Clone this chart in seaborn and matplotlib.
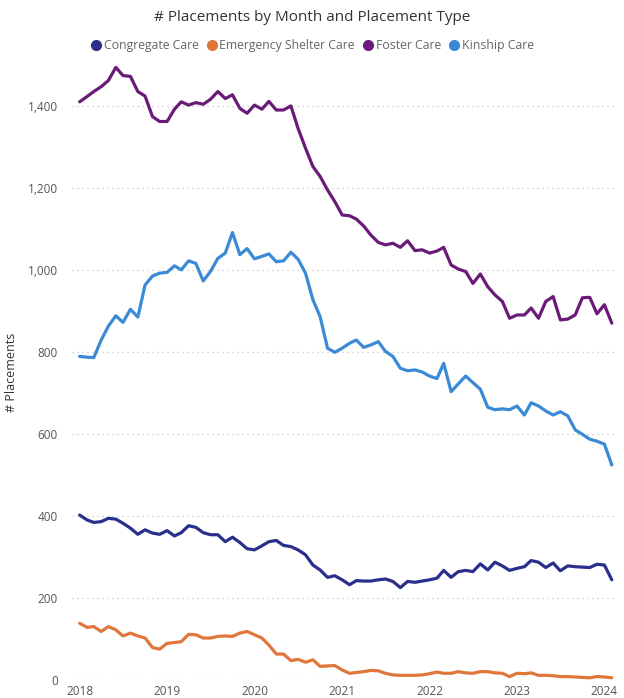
import pandas as pd
import numpy as np
import matplotlib.pyplot as plt
import matplotlib.dates as mdates
from matplotlib.ticker import FuncFormatter
from matplotlib.lines import Line2D
import seaborn as sns

# data, monthly Jan 2018 - Feb 2024
months = pd.date_range('2018-01-01', periods=74, freq='MS')

congregate = [402,390,384,386,394,392,382,370,355,366, 358,355,364,351,359,376,372,359,354,354,
              337,348,335,320,317,327,337,340,328,325, 317,305,280,268,250,254,244,232,242,241,
              241,244,246,240,225,240,238,241,244,248, 267,250,264,267,264,283,268,287,278,267,
              272,276,291,287,274,285,266,278,276,275, 274,282,280,244]
emergency = [138,128,130,118,130,122,107,114,107,102, 79,75,89,91,93,111,110,102,102,106,
             107,106,114,118,110,102,85,63,63,47, 50,43,49,33,34,35,24,16,18,20,
             23,22,16,12,11,11,11,12,15,19, 16,16,20,17,16,20,20,17,16,8,
             16,15,17,11,11,10,8,8,7,6, 5,8,7,5]
foster = [1410,1423,1435,1447,1462,1494,1474,1472,1435,1424, 1374,1362,1362,1392,1410,1402,1408,1404,1416,1435,
          1418,1427,1394,1382,1402,1392,1411,1390,1390,1400, 1345,1297,1252,1228,1195,1167,1134,1132,1124,1107,
          1085,1067,1061,1065,1055,1071,1047,1049,1041,1046, 1055,1012,1002,996,967,990,959,939,923,882,
          890,890,907,882,923,935,878,880,890,932, 933,893,915,870]
kinship = [789,787,786,829,863,888,872,904,885,963, 985,992,994,1010,1000,1022,1016,973,996,1028,
           1041,1091,1037,1052,1027,1033,1039,1020,1022,1043, 1026,992,927,886,809,799,809,821,829,811,
           817,825,801,789,760,754,756,751,741,735, 772,703,722,741,725,709,665,659,661,659,
           668,646,676,668,656,646,654,644,610,599, 587,582,575,524]

types = ['Congregate Care', 'Emergency Shelter Care', 'Foster Care', 'Kinship Care']
colors = ['#2b2f8c', '#e0763c', '#6a1b78', '#3a8ad6']

df = pd.concat([
    pd.DataFrame({'month': months, 'placements': vals, 'type': t})
    for t, vals in zip(types, [congregate, emergency, foster, kinship])
])

sns.set_style('white')
plt.rcParams['font.family'] = ['Open Sans', 'DejaVu Sans']

fig = plt.figure(figsize=(6.24, 6.98), dpi=100)
ax = fig.add_axes([0.115, 0.026, 0.872, 0.881])

sns.lineplot(data=df, x='month', y='placements', hue='type', hue_order=types,
             palette=colors, linewidth=2.3, legend=False, ax=ax)

ax.set_ylim(0, 1500)
ax.set_xlim(pd.Timestamp('2017-11-29'), pd.Timestamp('2024-02-18'))
ax.set_yticks([0, 200, 400, 600, 800, 1000, 1200, 1400])
ax.yaxis.set_major_formatter(FuncFormatter(lambda v, p: f'{int(v):,}'))
ax.xaxis.set_major_locator(mdates.YearLocator())
ax.xaxis.set_major_formatter(mdates.DateFormatter('%Y'))
ax.tick_params(axis='both', labelsize=8.5, colors='#555555', length=0, pad=4)
ax.tick_params(axis='y', pad=10)
ax.grid(axis='y', linestyle=(0, (1, 3)), color='#c8c8c8', linewidth=0.9)
ax.grid(axis='x', visible=False)
sns.despine(ax=ax, left=True, bottom=True)
ax.set_xlabel('')
ax.set_ylabel('# Placements', fontsize=9, color='#333333')
ax.yaxis.set_label_coords(-0.098, 0.5)

fig.text(0.5, 0.975, '# Placements by Month and Placement Type', ha='center', va='center',
         fontsize=11, color='#333333')
handles = [Line2D([], [], marker='o', linestyle='', markersize=7, color=c) for c in colors]
fig.legend(handles, types, loc='center', bbox_to_anchor=(0.5, 0.935), ncol=4, frameon=False,
           fontsize=8.8, labelcolor='#666666', handletextpad=0.1, columnspacing=0.6,
           handlelength=1.0)

fig.savefig('out.png', dpi=100)
